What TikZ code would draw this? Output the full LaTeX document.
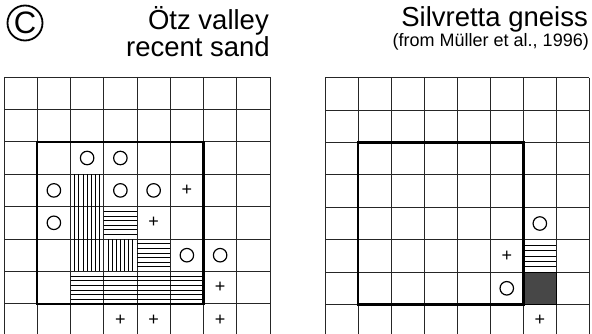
\documentclass[tikz,border=0pt]{standalone}
\usepackage{fontspec}
\setmainfont{Liberation Sans}
\usetikzlibrary{calc}

\begin{document}
\begin{tikzpicture}[x=1pt, y=-1pt,
    gridline/.style={line width=0.8pt, black!85},
    frame/.style={line width=2.4pt, line join=miter},
    hatch/.style={line width=0.7pt},
    grain/.style={circle, draw, line width=1.2pt, inner sep=0pt, minimum size=13.5pt},
    cross/.style={inner sep=0pt, font=\fontsize{18}{18}\selectfont},
    title/.style={anchor=base east, inner sep=0pt, font=\fontsize{27.5}{30}\selectfont},
    source/.style={anchor=base east, inner sep=0pt, font=\fontsize{18}{20}\selectfont},
  ]
  \useasboundingbox (0,0) rectangle (592,334);

  % panel letter and titles
  \node[circle, draw, line width=1.8pt, minimum size=35pt, inner sep=0pt,
        font=\fontsize{31}{31}\selectfont] (panel) at (25,23) {C};
  \node[title]  (otz)  at (269,30) {Ötz valley};
  \node[title]  (sand) at (270,57) {recent sand};
  \node[title]  (silv) at (588,27) {Silvretta gneiss};
  \node[source] (ref)  at (589,47) {(from Müller et al., 1996)};

  % left grid: Oetz valley
  \begin{scope}[shift={(4,77)}, x=33.25pt, y=-32.4pt]
    \foreach \i in {0,...,8} \draw[gridline] (\i,0) -- (\i,8.2);
    \foreach \j in {0,...,7} \draw[gridline] (0,\j) -- (8,\j);
    \foreach \c/\r in {2/3, 2/4, 2/5, 3/5}
      \foreach \k in {1,...,7} \draw[hatch] (\c+\k/8,\r) -- (\c+\k/8,\r+1);
    \foreach \c/\r/\w in {3/4/1, 4/5/1, 2/6/4}
      \foreach \k in {1,...,6} \draw[hatch] (\c,\r+\k/7) -- (\c+\w,\r+\k/7);
    \draw[frame] (1,2) rectangle (6,7);
    \foreach \c/\r [count=\n] in {2/2, 3/2, 1/3, 3/3, 4/3, 1/4, 5/5, 6/5}
      \node[grain] (lo\n) at (\c+0.5,\r+0.5) {};
    \foreach \c/\r [count=\n] in {5/3, 4/4, 6/6, 3/7, 4/7, 6/7}
      \node[cross] (lp\n) at (\c+0.5,\r+0.5) {+};
  \end{scope}

  % right grid: Silvretta gneiss
  \begin{scope}[shift={(325,77.7)}, x=33.05pt, y=-32.4pt]
    \foreach \i in {0,...,8} \draw[gridline] (\i,0) -- (\i,8.2);
    \foreach \j in {0,...,7} \draw[gridline] (0,\j) -- (8,\j);
    \foreach \k in {1,...,5} \draw[hatch] (6,5+\k/6) -- (7,5+\k/6);
    \fill[black!72, draw=black, line width=0.8pt] (6,6) rectangle (7,7);
    \draw[frame] (1,2) rectangle (6,7);
    \foreach \c/\r [count=\n] in {6/4, 5/6}
      \node[grain] (ro\n) at (\c+0.5,\r+0.5) {};
    \foreach \c/\r [count=\n] in {5/5, 6/7}
      \node[cross] (rp\n) at (\c+0.5,\r+0.5) {+};
  \end{scope}
\end{tikzpicture}
\end{document}
